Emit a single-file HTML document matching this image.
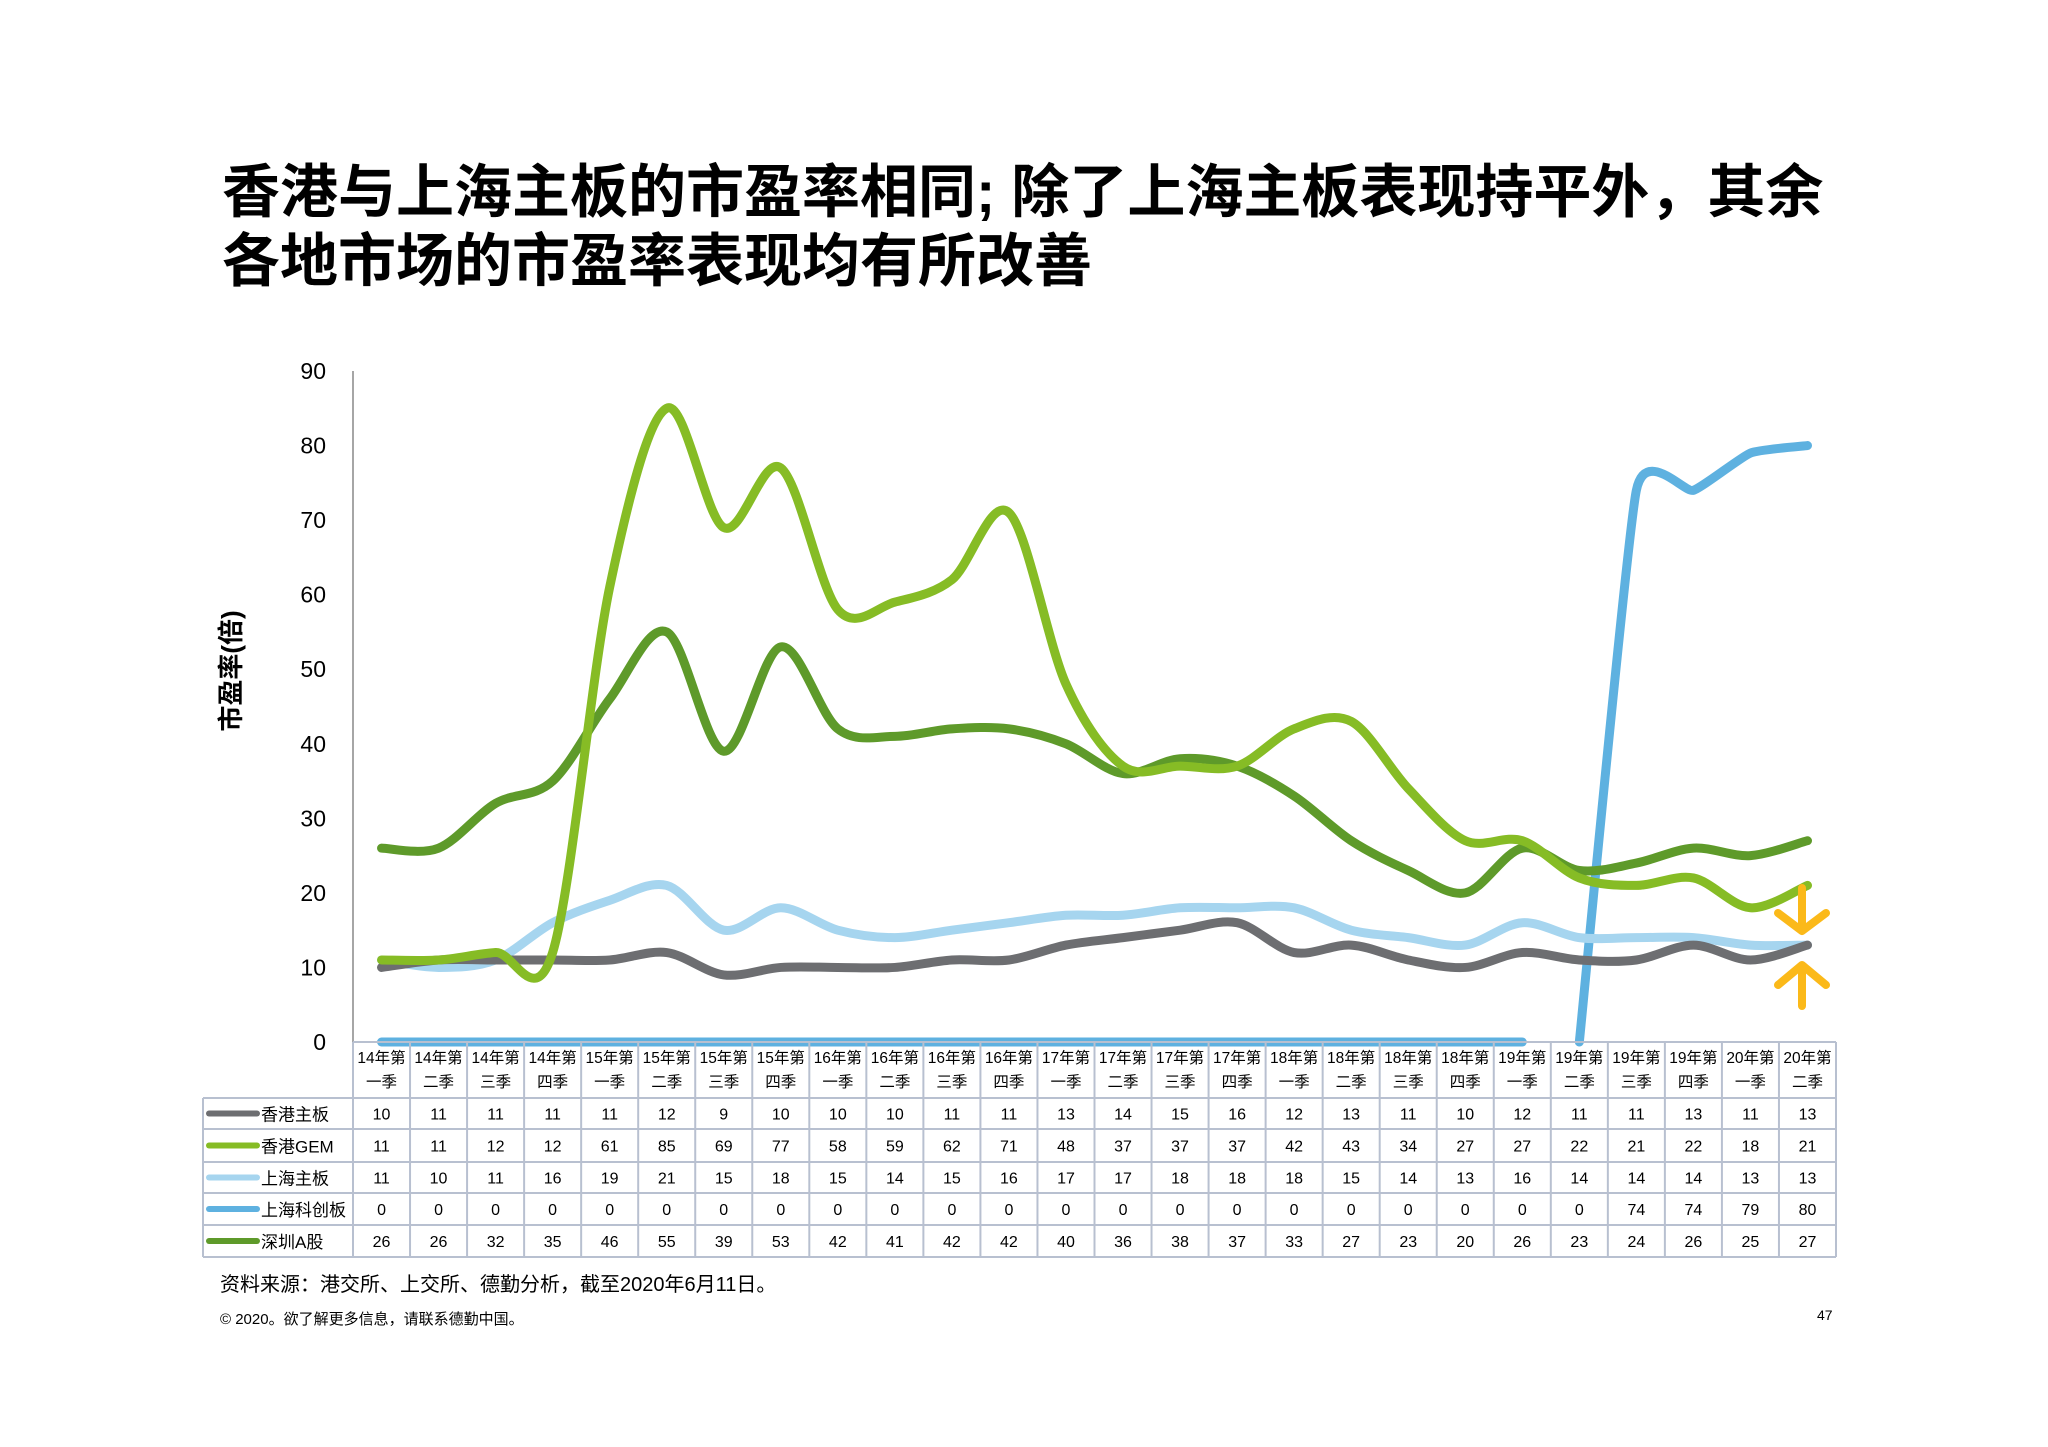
<!DOCTYPE html>
<html><head><meta charset="utf-8">
<style>
body{margin:0;background:#fff;}
#root{position:relative;width:2048px;height:1447px;overflow:hidden;font-family:"Liberation Sans","Noto Sans CJK SC",sans-serif;color:#000;}
.title{position:absolute;left:222px;font-size:58px;font-weight:bold;line-height:68px;white-space:nowrap;}
</style></head>
<body>
<div id="root">
<div class="title" style="top:159px;">香港与上海主板的市盈率相同; 除了上海主板表现持平外，其余</div>
<div class="title" style="top:228px;">各地市场的市盈率表现均有所改善</div>
<svg id="chart" width="2048" height="1447" style="position:absolute;left:0;top:0" font-family="Liberation Sans, Noto Sans CJK SC, sans-serif"></svg>
<div style="position:absolute;left:220px;top:1268px;font-size:20px;white-space:nowrap;">资料来源：港交所、上交所、德勤分析，截至2020年6月11日。</div>
<div style="position:absolute;left:220px;top:1308px;font-size:15px;white-space:nowrap;">© 2020。欲了解更多信息，请联系德勤中国。</div>
<div style="position:absolute;left:1817px;top:1307px;font-size:14px;">47</div>
</div>
<script>
const categories=["14年第|一季","14年第|二季","14年第|三季","14年第|四季","15年第|一季","15年第|二季","15年第|三季","15年第|四季","16年第|一季","16年第|二季","16年第|三季","16年第|四季","17年第|一季","17年第|二季","17年第|三季","17年第|四季","18年第|一季","18年第|二季","18年第|三季","18年第|四季","19年第|一季","19年第|二季","19年第|三季","19年第|四季","20年第|一季","20年第|二季"];
const seriesNames=["香港主板","香港GEM","上海主板","上海科创板","深圳A股"];
const hkMain=[10,11,11,11,11,12,9,10,10,10,11,11,13,14,15,16,12,13,11,10,12,11,11,13,11,13];
const hkGem=[11,11,12,12,61,85,69,77,58,59,62,71,48,37,37,37,42,43,34,27,27,22,21,22,18,21];
const shMain=[11,10,11,16,19,21,15,18,15,14,15,16,17,17,18,18,18,15,14,13,16,14,14,14,13,13];
const shStar=[0,0,0,0,0,0,0,0,0,0,0,0,0,0,0,0,0,0,0,0,0,0,74,74,79,80];
const szA=[26,26,32,35,46,55,39,53,42,41,42,42,40,36,38,37,33,27,23,20,26,23,24,26,25,27];
const yTicks=[0,10,20,30,40,50,60,70,80,90];
const colors=["#6d6e71","#86bc25","#a6d5ef","#5eb1e0","#5e9a2a"];
const allSeries=[hkMain,hkGem,shMain,shStar,szA];

const svg=document.getElementById('chart');
const NS="http://www.w3.org/2000/svg";
const X0=353,X1=1836,Y0=1042,YT=371;
const colW=(X1-X0)/categories.length;
function xPos(i){return X0+colW*(i+0.5);}
function yPos(v){return Y0-(v/90)*(Y0-YT);}
function mk(tag,attrs){const e=document.createElementNS(NS,tag);for(const k in attrs)e.setAttribute(k,attrs[k]);svg.appendChild(e);return e;}
let ax=mk('line',{x1:X0,y1:YT,x2:X0,y2:Y0,stroke:'#888','stroke-width':1.5});


yTicks.forEach(t=>{
  const tx=mk('text',{x:326,y:yPos(t)+8,'text-anchor':'end','font-size':23,fill:'#000'});
  tx.textContent=t;
  
  
});
const yt=mk('text',{transform:'translate(240,671) rotate(-90)','text-anchor':'middle','font-size':26,'font-weight':'bold',fill:'#000'});
yt.textContent='市盈率(倍)';


function smooth(idx,vals,t){
  const p=idx.map(i=>[xPos(i),yPos(vals[i])]);
  let d='M'+p[0][0]+','+p[0][1];
  for(let i=0;i<p.length-1;i++){
    const a=p[i-1]||p[i],b=p[i],c=p[i+1],e=p[i+2]||c;
    d+=' C'+(b[0]+(c[0]-a[0])*t)+','+(b[1]+(c[1]-a[1])*t)+' '+(c[0]-(e[0]-b[0])*t)+','+(c[1]-(e[1]-b[1])*t)+' '+c[0]+','+c[1];
  }
  return d;
}
const order=[3,2,0,4,1];
order.forEach(s=>{
  const vals=allSeries[s];
  let segs=[];
  if(s===3){
    const a=[],b=[];
    vals.forEach((v,i)=>{ if(i<=20) a.push(i); else b.push(i);});
    segs=[a,b];
  } else segs=[vals.map((v,i)=>i)];
  segs.forEach(idx=>{
    const pth=mk('path',{d:smooth(idx,vals,s===3?0.08:0.16),fill:'none',stroke:colors[s],'stroke-width':9,'stroke-linecap':'round','stroke-linejoin':'round'});
    
    
  });
});
const TL=203,rowsY=[1042,1098,1129,1162,1193,1225,1257];
const g='#b8c0d0';
rowsY.forEach((y,i)=>{mk('line',{x1:i===0?X0:TL,y1:y,x2:X1,y2:y,stroke:g,'stroke-width':2});});
mk('line',{x1:TL,y1:1098,x2:TL,y2:1257,stroke:g,'stroke-width':2});
for(let i=0;i<=categories.length;i++){const x=X0+colW*i;mk('line',{x1:x,y1:1042,x2:x,y2:1257,stroke:g,'stroke-width':2});}
categories.forEach((c,i)=>{
  const parts=c.split('|');
  parts.forEach((p,j)=>{
    const t=mk('text',{x:xPos(i),y:1063+j*24,'text-anchor':'middle','font-size':15.5,fill:'#000'});
    t.textContent=p;
    
    
  });
});
allSeries.forEach((vals,s)=>{
  const cy=(rowsY[s+1]+rowsY[s+2])/2;
  const sw=mk('line',{x1:209,y1:cy,x2:257,y2:cy,stroke:colors[s],'stroke-width':6,'stroke-linecap':'round'});
  
  
  const lt=mk('text',{x:261,y:cy+7,'font-size':17,fill:'#000'});
  lt.textContent=seriesNames[s];
  
  
  vals.forEach((v,i)=>{
    const t=mk('text',{x:xPos(i),y:cy+6,'text-anchor':'middle','font-size':16,fill:'#000'});
    t.textContent=v;
    
    
  });
});
const ar=mk('path',{d:'M1802,888 L1802,929 M1778,913 L1802,931 L1826,913 M1802,967 L1802,1006 M1778,985 L1802,965 L1826,985',fill:'none',stroke:'#fbb919','stroke-width':8,'stroke-linecap':'round','stroke-linejoin':'round'});


</script>
</body></html>
